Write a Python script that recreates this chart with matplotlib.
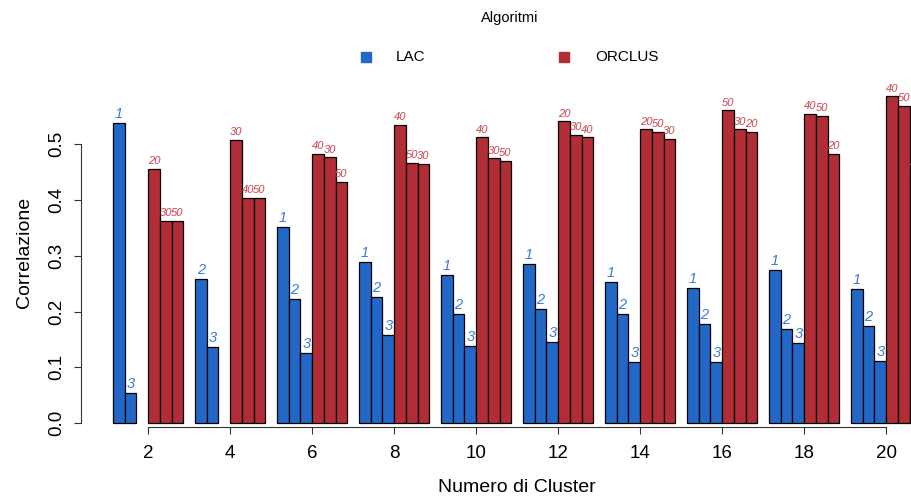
import numpy as np
import matplotlib
matplotlib.use("Agg")
import matplotlib.pyplot as plt
from matplotlib.patches import Rectangle

plt.rcParams['font.family'] = ['Liberation Sans', 'DejaVu Sans']

clusters = [2, 4, 6, 8, 10, 12, 14, 16, 18, 20]
nan = np.nan
lac_values = [[0.538, 0.054, nan], [0.258, 0.136, nan], [0.352, 0.223, 0.125],
              [0.289, 0.2255, 0.1575], [0.265, 0.195, 0.138], [0.285, 0.205, 0.145],
              [0.2535, 0.196, 0.110], [0.243, 0.177, 0.109], [0.274, 0.169, 0.143],
              [0.240, 0.174, 0.112]]
lac_labels = [["1", "3", ""], ["2", "3", ""]] + [["1", "2", "3"]] * 8
orclus_values = [[0.456, 0.362, 0.362], [0.507, 0.403, 0.403], [0.482, 0.476, 0.432],
                 [0.5345, 0.466, 0.4647], [0.512, 0.474, 0.4695], [0.5405, 0.5166, 0.512],
                 [0.526, 0.521, 0.509], [0.560, 0.526, 0.522], [0.5536, 0.550, 0.482],
                 [0.585, 0.568, 0.453]]
orclus_labels = [["20", "30", "50"], ["30", "40", "50"], ["40", "30", "50"],
                 ["40", "50", "30"], ["40", "30", "50"], ["20", "30", "40"],
                 ["20", "50", "30"], ["50", "30", "20"], ["40", "50", "20"],
                 ["40", "50", "20"]]

blue = "#2368c6"
red = "#b22d35"
blue_txt = "#3a7ad8"
red_txt = "#cc444e"

fig = plt.figure(figsize=(9.12, 4.98), dpi=100)
# plot region, in pixels: x 80.7..953.6, y 76.9..427.3 (runs past the right edge like the original)
ax = fig.add_axes([80.7 / 912, (498 - 427.3) / 498, (953.6 - 80.7) / 912, (427.3 - 76.9) / 498])

for i in range(len(clusters)):
    vals = lac_values[i] + orclus_values[i]
    labs = lac_labels[i] + orclus_labels[i]
    for j in range(6):
        v = vals[j]
        if np.isnan(v):
            continue
        x = i * 7 + 1.5 + j
        col = blue if j < 3 else red
        ax.bar(x, v, width=1, color=col, edgecolor="black", linewidth=0.9)
        if j < 3:
            ax.annotate(labs[j], (x, v), xytext=(0, 3.6), textcoords="offset points",
                        ha="center", va="baseline", fontsize=10.5, style="italic",
                        color=blue_txt, annotation_clip=False)
        else:
            ax.annotate(labs[j], (x, v), xytext=(0, 3.4), textcoords="offset points",
                        ha="center", va="baseline", fontsize=8, style="italic",
                        color=red_txt, annotation_clip=False)

ax.set_xlim(-1.76, 72.76)
ax.set_ylim(-0.0072, 0.62)

centers = [i * 7 + 4 for i in range(len(clusters))]
ax.set_xticks(centers)
ax.set_xticklabels([str(c) for c in clusters], fontsize=13.5)
ax.set_yticks([0, 0.1, 0.2, 0.3, 0.4, 0.5])
ax.set_yticklabels(["0.0", "0.1", "0.2", "0.3", "0.4", "0.5"], fontsize=13.5,
                   rotation=90, va="center")
ax.tick_params(axis="both", length=5, width=0.8, color="#333333")
ax.tick_params(axis="x", pad=8)
ax.tick_params(axis="y", pad=6)

for s in ["top", "right"]:
    ax.spines[s].set_visible(False)
ax.spines["left"].set_bounds(0, 0.5)
ax.spines["bottom"].set_bounds(centers[0], centers[-1])
ax.spines["left"].set_color("#333333")
ax.spines["bottom"].set_color("#333333")

ax.set_xlabel("Numero di Cluster", fontsize=14, labelpad=12)
ax.set_ylabel("Correlazione", fontsize=14, labelpad=11)

# legend
fig.text(510 / 912, 1 - 18 / 498, "Algoritmi", ha="center", va="center", fontsize=10.5)
fig.patches.append(Rectangle((361 / 912, 1 - 62 / 498), 10 / 912, 10 / 498,
                             transform=fig.transFigure, color=blue, figure=fig))
fig.patches.append(Rectangle((559 / 912, 1 - 62 / 498), 10 / 912, 10 / 498,
                             transform=fig.transFigure, color=red, figure=fig))
fig.text(396 / 912, 1 - 57 / 498, "LAC", ha="left", va="center", fontsize=11)
fig.text(595 / 912, 1 - 57 / 498, "ORCLUS", ha="left", va="center", fontsize=11)

fig.savefig("out.png", dpi=100)
